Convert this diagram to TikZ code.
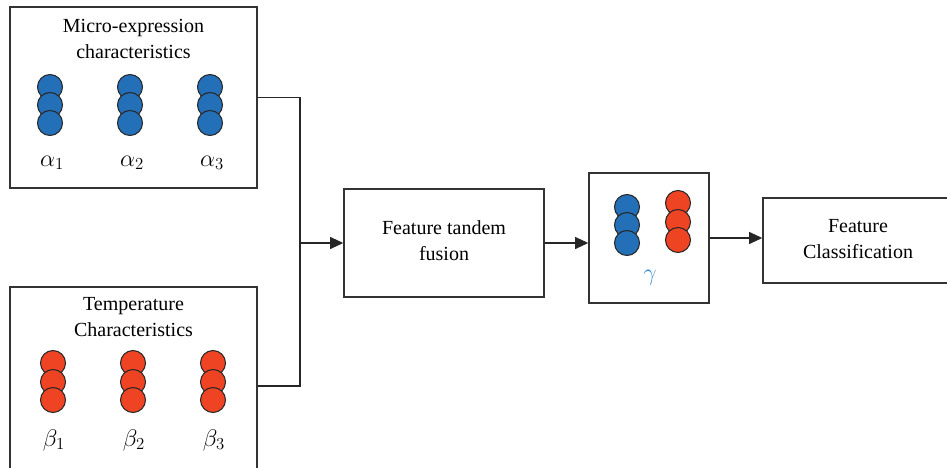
\documentclass[tikz,border=0pt]{standalone}
\usepackage{amsmath}
\usepackage{amssymb}
\usepackage{fix-cm}
\usepackage{fontspec}
\setmainfont{Liberation Serif}
\usetikzlibrary{arrows.meta}

\definecolor{featblue}{HTML}{2470B8}
\definecolor{featred}{HTML}{EF4423}
\definecolor{gammablue}{HTML}{3B8ED6}
\definecolor{linegray}{HTML}{333333}

\tikzset{
	block/.style={draw=linegray, line width=1pt, fill=white, inner sep=0pt},
	label/.style={font=\fontsize{15}{19.5}\selectfont, align=center, text=black},
	greek/.style={font=\fontsize{18}{20}\selectfont, text=black},
	ball/.style={draw=black!85, line width=0.8pt},
	arr/.style={draw=black!85, line width=1.2pt, -{Triangle[length=10pt,width=9pt]}},
	wire/.style={draw=black!85, line width=1.2pt}
}

\begin{document}
\begin{tikzpicture}[x=0.75pt,y=-0.75pt]
			\clip (0,0) rectangle (947,468);
			\node[block, minimum width=247*0.75pt, minimum height=181*0.75pt] (micro) at (133.5,97.5) {};
			\node[block, minimum width=247*0.75pt, minimum height=198*0.75pt] (temp) at (133.5,386) {};
			\node[block, minimum width=200*0.75pt, minimum height=108*0.75pt] (fusion) at (444,243) {};
			\node[block, minimum width=120*0.75pt, minimum height=130*0.75pt] (gamma) at (649,238) {};
			\node[block, minimum width=190*0.75pt, minimum height=85*0.75pt] (classify) at (858,240.5) {};
			\node[label] (microtxt) at (133.5,39) {Micro-expression\\characteristics};
			\node[label] (temptxt) at (133.5,317) {Temperature\\Characteristics};
			\node[label] (fusiontxt) at (444,241) {Feature tandem\\fusion};
			\node[label] (classifytxt) at (858,239.5) {Feature\\Classification};
			\foreach \x in {50,130,210} {
				\foreach \y in {87,105,123}
					\draw[ball, fill=featblue] (\x,\y) circle (12.5);
			}
			\foreach \x in {53,133,213} {
				\foreach \y in {363,382,400}
					\draw[ball, fill=featred] (\x,\y) circle (12.5);
			}
			\foreach \y in {207,225,243}
				\draw[ball, fill=featblue] (627,\y) circle (12.5);
			\foreach \y in {203,222,240}
				\draw[ball, fill=featred] (678,\y) circle (12.5);
			\node[greek] (a1) at (52,163) {$\alpha_1$};
			\node[greek] (a2) at (132,163) {$\alpha_2$};
			\node[greek] (a3) at (212,163) {$\alpha_3$};
			\node[greek] (b1) at (54,440) {$\beta_1$};
			\node[greek] (b2) at (134,440) {$\beta_2$};
			\node[greek] (b3) at (214,440) {$\beta_3$};
			\node[greek, text=gammablue] (g) at (650,278) {$\gamma$};
			\coordinate (join) at (300,243);
			\draw[wire] (micro.east) -| (join);
			\draw[wire] (temp.east) -| (join);
			\draw[arr] (join) -- (fusion.west);
			\draw[arr] (fusion.east) -- (fusion.east -| gamma.west);
			\draw[arr] (gamma.east) -- (gamma.east -| classify.west);
		\end{tikzpicture}
\end{document}
